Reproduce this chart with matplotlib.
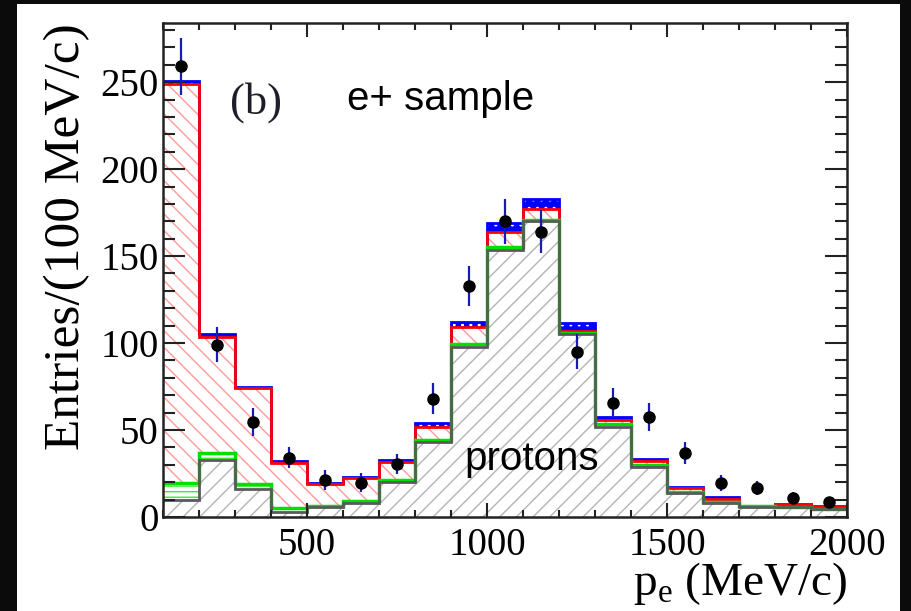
import numpy as np
import matplotlib.pyplot as plt
from matplotlib.patches import Rectangle
from matplotlib.ticker import MultipleLocator

plt.rcParams['font.family'] = 'Liberation Serif'
plt.rcParams['mathtext.fontset'] = 'custom'
plt.rcParams['mathtext.rm'] = 'Liberation Serif'
plt.rcParams['hatch.linewidth'] = 1.0

# bins of 100 MeV/c
edges = np.arange(100, 2001, 100)
centers = edges[:-1] + 50

# stacked MC components, bottom -> top
protons = [10, 33, 16, 3, 5.5, 8, 20, 43, 98, 153.5, 170, 105, 52, 29, 14, 8, 5.7, 5.7, 4.6]
green_bg = [9.5, 4, 3, 2, 0.8, 1, 1.3, 1, 1.4, 1.5, 1, 0.5, 1.4, 1, 0.5, 0.5, 0.6, 0.2, 0.2]
red_bg = [229.5, 66.5, 55, 26, 12.7, 13.4, 10.3, 8, 9.6, 9, 6, 1.5, 2.6, 2, 2.1, 2, 0, 1.6, 1.5]
blue_bg = [1.5, 1.5, 1, 1, 0.5, 0.6, 1.4, 2, 3, 5, 6, 4.5, 1.5, 1.3, 0.8, 1, 0, 0, 0]

# data points
data = [259, 99, 54.6, 34, 21.3, 19.6, 30.5, 68, 133, 170, 164, 95, 65.5, 57.5, 36.8, 19.5, 16.7, 11, 8.6]
data_err = [16.5, 10, 8, 6, 5.5, 5.5, 5.5, 9, 11.5, 13, 12.5, 10, 8.5, 8, 6.5, 4.5, 4, 3.3, 3]

fig = plt.figure(figsize=(9.11, 6.11), dpi=100, facecolor='#0b0b0b')
fig.add_artist(Rectangle((17 / 911, 0), 883 / 911, 607 / 611, transform=fig.transFigure,
                         facecolor='white', edgecolor='none', zorder=-1))
ax = fig.add_axes([163 / 911, 1 - 517 / 611, 684 / 911, 494 / 611])

# cumulative levels
lev0 = np.zeros(len(protons))
lev1 = lev0 + np.array(protons)
lev2 = lev1 + np.array(green_bg)
lev3 = lev2 + np.array(red_bg)
lev4 = lev3 + np.array(blue_bg)

# fills
ax.stairs(lev1, edges, baseline=lev0, fill=True, facecolor='white', edgecolor='#b4b4b4',
          hatch='//', linewidth=0)
ax.stairs(lev2, edges, baseline=lev1, fill=True, facecolor='white', edgecolor='#33ee33',
          hatch='---', linewidth=0)
ax.stairs(lev3, edges, baseline=lev2, fill=True, facecolor='white', edgecolor='#ff9a9a',
          hatch='\\\\', linewidth=0)
ax.stairs(lev4, edges, baseline=lev3, fill=True, facecolor='#0000ff', edgecolor='white',
          hatch='..', linewidth=0)

# outlines (top of stack first, lower levels on top)
ax.stairs(lev4, edges, baseline=None, color='#0000ff', linewidth=2)
ax.stairs(lev3, edges, baseline=None, color='#ff0000', linewidth=2)
ax.stairs(lev2, edges, baseline=None, color='#00e000', linewidth=2.5)
ax.stairs(lev1, edges, baseline=None, color='#5a5a5a', linewidth=2)

ax.errorbar(centers, data, yerr=data_err, fmt='o', color='black', ecolor='#1a1ab4',
            markersize=8, elinewidth=1.6, capsize=0, zorder=5)

ax.set_xlim(100, 2000)
ax.set_ylim(0, 284)

ax.xaxis.set_major_locator(MultipleLocator(500))
ax.xaxis.set_minor_locator(MultipleLocator(100))
ax.yaxis.set_major_locator(MultipleLocator(50))
ax.yaxis.set_minor_locator(MultipleLocator(10))
ax.tick_params(which='both', direction='in', top=True, right=True, width=1.5, color='#222222')
ax.tick_params(axis='x', which='major', length=10, labelsize=28, pad=7)
ax.tick_params(axis='x', which='minor', length=5)
ax.tick_params(axis='y', which='major', length=16, labelsize=28, pad=3)
ax.tick_params(axis='y', which='minor', length=8.5)
for s in ax.spines.values():
    s.set_linewidth(1.8)
    s.set_color('#222222')

ax.set_ylabel('Entries/(100 MeV/c)', fontsize=37, loc='top')
ax.yaxis.set_label_coords(-0.107, 1.0)
ax.set_xlabel(r'p$_{\rm e}$ (MeV/c)', fontsize=34, loc='right')
ax.xaxis.set_label_coords(1.0, -0.088)

ax.text(286, 232, '(b)', fontsize=32, color='#1e1e28')
ax.text(611, 234, 'e+ sample', fontsize=29, family='Liberation Sans')
ax.text(936, 27, 'protons', fontsize=29, family='Liberation Sans')

fig.savefig('out.png', dpi=100)
